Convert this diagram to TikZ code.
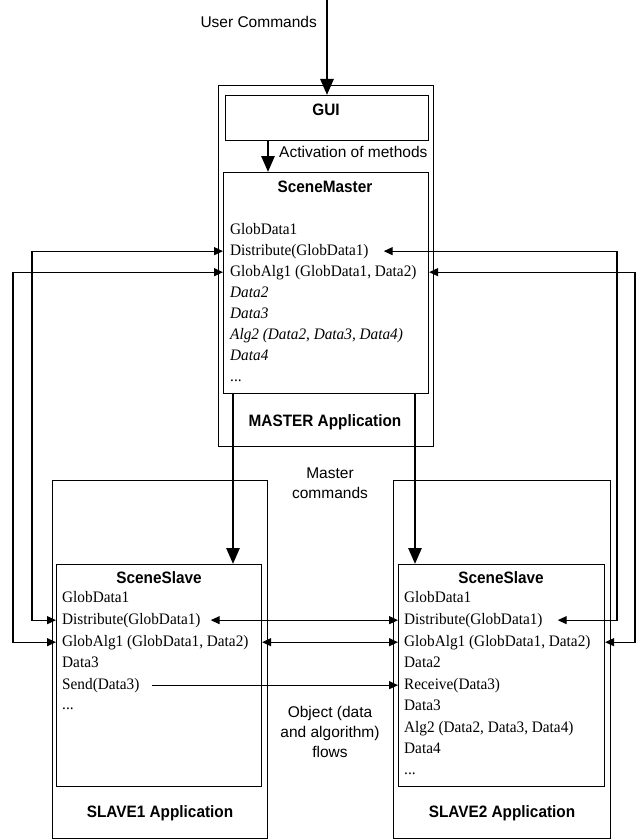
\documentclass[tikz,border=0pt]{standalone}
\usepackage{fontspec}
\setmainfont[FakeStretch=0.955]{Liberation Serif}
\setsansfont{Liberation Sans}
\newfontfamily\bsans[FakeStretch=0.93]{Liberation Sans}
\usetikzlibrary{arrows.meta}
\tikzset{
  outerbox/.style={draw, line width=0.8pt, anchor=north west, inner sep=0pt},
  innerbox/.style={draw, line width=1.1pt, anchor=north west, inner sep=0pt},
  ln/.style={anchor=base west, inner sep=0pt, font=\fontsize{16}{19}\selectfont},
  lni/.style={anchor=base west, inner sep=0pt, font=\fontsize{16}{19}\selectfont\itshape},
  ttl/.style={inner sep=0pt, font=\fontsize{16.5}{19}\bsans\bfseries},
  lbl/.style={inner sep=0pt, font=\fontsize{15.5}{20}\sffamily, align=center},
  conn/.style={line width=1.2pt, {Triangle[length=9pt,width=8pt]}-{Triangle[length=9pt,width=8pt]}},
  conn1/.style={line width=1.2pt, -{Triangle[length=9pt,width=8pt]}},
  big/.style={line width=2.8pt, -{Triangle[length=16pt,width=13pt]}}
}
\begin{document}
\begin{tikzpicture}[x=1pt,y=-1pt]
\useasboundingbox (0,0) rectangle (637,840);
% boxes
\node[outerbox, minimum width=215pt, minimum height=361pt] (mo) at (218,85) {};
\node[innerbox, minimum width=203pt, minimum height=45pt] (gui) at (225,95) {};
\node[innerbox, minimum width=205pt, minimum height=221pt] (sm) at (223,172) {};
\node[outerbox, minimum width=215pt, minimum height=358pt] (so1) at (52,480) {};
\node[innerbox, minimum width=205pt, minimum height=222pt] (ss1) at (56,564) {};
\node[outerbox, minimum width=217pt, minimum height=358pt] (so2) at (393,480) {};
\node[innerbox, minimum width=206pt, minimum height=222pt] (ss2) at (398,564) {};
% titles
\node[ttl] (tgui) at (326,110) {GUI};
\node[ttl] (tsm) at (325,187) {SceneMaster};
\node[ttl] (tma) at (325,422) {MASTER Application};
\node[ttl] (tss1) at (159,578) {SceneSlave};
\node[ttl] (tss2) at (501,578) {SceneSlave};
\node[ttl] (tsa1) at (160,813) {SLAVE1 Application};
\node[ttl] (tsa2) at (502,813) {SLAVE2 Application};
% labels
\node[lbl, anchor=east] (uc) at (317,22) {User Commands};
\node[lbl, anchor=west] (act) at (279,152) {Activation of methods};
\node[lbl] (mc) at (330,483) {Master\\commands};
\node[lbl] (obj) at (330,732) {Object (data\\and algorithm)\\flows};
% master lines
\node[ln] (m1) at (230,234) {GlobData1};
\node[ln] (m2) at (230,255) {Distribute(GlobData1)};
\node[ln] (m3) at (230,276) {GlobAlg1 (GlobData1, Data2)};
\node[lni] (m4) at (230,297) {Data2};
\node[lni] (m5) at (230,318) {Data3};
\node[lni] (m6) at (230,339) {Alg2 (Data2, Data3, Data4)};
\node[lni] (m7) at (230,360) {Data4};
\node[ln] (m8) at (230,381) {...};
% slave1 lines
\node[ln] (a1) at (62,602) {GlobData1};
\node[ln] (a2) at (62,624) {Distribute(GlobData1)};
\node[ln] (a3) at (62,646) {GlobAlg1 (GlobData1, Data2)};
\node[ln] (a4) at (62,667) {Data3};
\node[ln] (a5) at (62,689) {Send(Data3)};
\node[ln] (a6) at (62,709) {...};
% slave2 lines
\node[ln] (b1) at (404,602) {GlobData1};
\node[ln] (b2) at (404,624) {Distribute(GlobData1)};
\node[ln] (b3) at (404,646) {GlobAlg1 (GlobData1, Data2)};
\node[ln] (b4) at (404,667) {Data2};
\node[ln] (b5) at (404,689) {Receive(Data3)};
\node[ln] (b6) at (404,710) {Data3};
\node[ln] (b7) at (404,732) {Alg2 (Data2, Data3, Data4)};
\node[ln] (b8) at (404,753) {Data4};
\node[ln] (b9) at (404,774) {...};
% lanes and anchors
\coordinate (ucs) at (327,0);
\coordinate (gx) at (268,0);
\coordinate (d1) at (233,0);
\coordinate (d2) at (415,0);
\coordinate (L1) at (13,0);
\coordinate (L2) at (32,0);
\coordinate (R1) at (617,0);
\coordinate (R2) at (635,0);
% thick arrows
\draw[big] (ucs) -- (ucs |- gui.north);
\draw[big] (gx |- gui.south) -- (gx |- sm.north);
\draw[big] (d1 |- sm.south) -- (d1 |- ss1.north);
\draw[big] (d2 |- sm.south) -- (d2 |- ss2.north);
% side lanes
\draw[conn] (m2.west -| sm.west) -- (m2.west -| L2) |- (a2.west -| ss1.west);
\draw[conn] (m3.west -| sm.west) -- (m3.west -| L1) |- (a3.west -| ss1.west);
\draw[conn] ([xshift=15pt]m2.east) -- (m2.east -| R1) |- ([xshift=15pt]b2.east);
\draw[conn] (m3.east -| sm.east) -- (m3.east -| R2) |- (b3.east -| ss2.east);
% between slaves
\draw[conn] ([xshift=10pt]a2.east) -- (b2.west -| ss2.west);
\draw[conn] (a3.east -| ss1.east) -- (b3.west -| ss2.west);
\draw[conn1] ([xshift=12pt]a5.east) -- (b5.west -| ss2.west);
\end{tikzpicture}
\end{document}
